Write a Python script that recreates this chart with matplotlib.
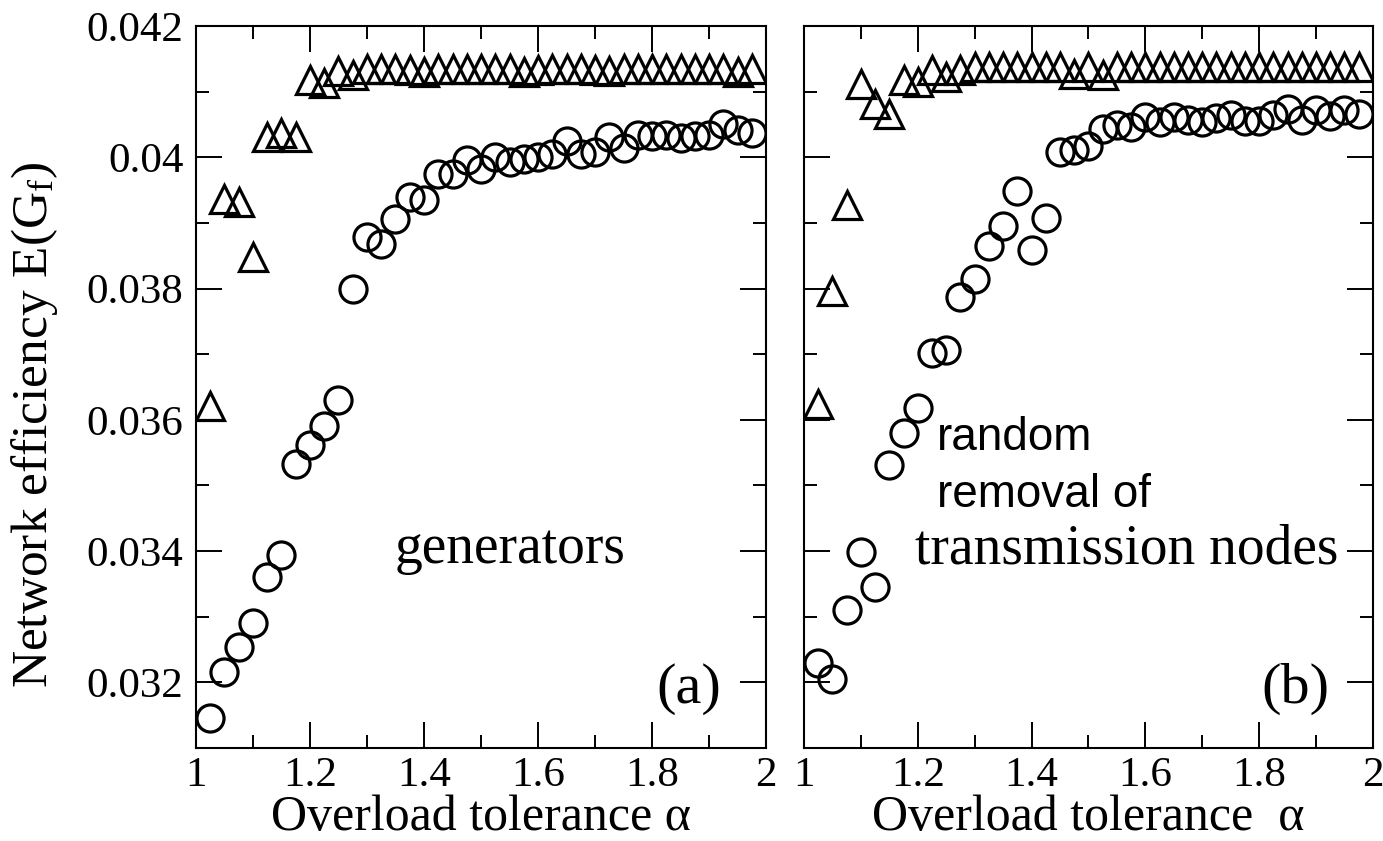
import matplotlib
matplotlib.use("Agg")
import matplotlib.pyplot as plt
from matplotlib.ticker import MultipleLocator

plt.rcParams['font.family'] = ['Liberation Serif', 'DejaVu Serif']
plt.rcParams['mathtext.fontset'] = 'custom'
plt.rcParams['mathtext.rm'] = 'Liberation Serif'
plt.rcParams['mathtext.it'] = 'Liberation Serif:italic'

# overload tolerance values (same grid in both panels)
alpha = [1.025, 1.05, 1.075, 1.1, 1.125, 1.15, 1.175, 1.2, 1.225, 1.25,
         1.275, 1.3, 1.325, 1.35, 1.375, 1.4, 1.425, 1.45, 1.475, 1.5,
         1.525, 1.55, 1.575, 1.6, 1.625, 1.65, 1.675, 1.7, 1.725, 1.75,
         1.775, 1.8, 1.825, 1.85, 1.875, 1.9, 1.925, 1.95, 1.975]

# (a) generators
gen_circles = [0.03146, 0.03216, 0.03254, 0.03290, 0.03361, 0.03394, 0.03533, 0.03562, 0.03591, 0.03630,
               0.03799, 0.03879, 0.03868, 0.03906, 0.03940, 0.03935, 0.03975, 0.03975, 0.03996, 0.03982,
               0.04000, 0.03993, 0.03997, 0.04000, 0.04005, 0.04025, 0.04005, 0.04008, 0.04031, 0.04014,
               0.04034, 0.04032, 0.04034, 0.04029, 0.04032, 0.04034, 0.04051, 0.04042, 0.04037]
gen_triangles = [0.03621, 0.03936, 0.03932, 0.03848, 0.04031, 0.04037, 0.04031, 0.04118, 0.04113, 0.04131,
                 0.04125, 0.04134, 0.04135, 0.04134, 0.04133, 0.04130, 0.04134, 0.04135, 0.04135, 0.04134,
                 0.04135, 0.04134, 0.04130, 0.04133, 0.04134, 0.04134, 0.04134, 0.04133, 0.04131, 0.04134,
                 0.04135, 0.04135, 0.04134, 0.04135, 0.04134, 0.04134, 0.04134, 0.04130, 0.04134]

# (b) random removal of transmission nodes
trans_circles = [0.03230, 0.03205, 0.03310, 0.03399, 0.03345, 0.03531, 0.03580, 0.03618, 0.03702, 0.03706,
                 0.03787, 0.03815, 0.03865, 0.03895, 0.03949, 0.03859, 0.03908, 0.04008, 0.04011, 0.04017,
                 0.04043, 0.04049, 0.04046, 0.04061, 0.04054, 0.04061, 0.04057, 0.04054, 0.04060, 0.04064,
                 0.04055, 0.04055, 0.04064, 0.04073, 0.04057, 0.04072, 0.04063, 0.04072, 0.04066]
trans_triangles = [0.03624, 0.03796, 0.03927, 0.04112, 0.04081, 0.04066, 0.04118, 0.04115, 0.04133, 0.04122,
                   0.04133, 0.04137, 0.04137, 0.04137, 0.04137, 0.04137, 0.04137, 0.04137, 0.04127, 0.04137,
                   0.04126, 0.04137, 0.04137, 0.04137, 0.04137, 0.04137, 0.04137, 0.04137, 0.04137, 0.04137,
                   0.04137, 0.04137, 0.04137, 0.04137, 0.04137, 0.04137, 0.04137, 0.04137, 0.04137]

fig = plt.figure(figsize=(13.83, 8.41), dpi=100)
ax_a = fig.add_axes([0.1417, 0.1106, 0.4122, 0.8585])
ax_b = fig.add_axes([0.5813, 0.1106, 0.4114, 0.8585])

marker_kw = dict(linestyle='none', markerfacecolor='none', markeredgecolor='black',
                 markeredgewidth=2.3)

for ax, circ, tri in [(ax_a, gen_circles, gen_triangles), (ax_b, trans_circles, trans_triangles)]:
    ax.plot(alpha, tri, marker='^', markersize=19.5, **marker_kw)
    ax.plot(alpha, circ, marker='o', markersize=19.5, **marker_kw)
    ax.set_xlim(1, 2)
    ax.set_ylim(0.031, 0.042)
    ax.xaxis.set_major_locator(MultipleLocator(0.2))
    ax.xaxis.set_minor_locator(MultipleLocator(0.1))
    ax.yaxis.set_major_locator(MultipleLocator(0.002))
    ax.yaxis.set_minor_locator(MultipleLocator(0.001))
    ax.tick_params(which='both', direction='in', top=True, right=True, width=1.4)
    ax.tick_params(which='major', length=18.5, labelsize=31, pad=6)
    ax.tick_params(which='minor', length=9.5)
    for sp in ax.spines.values():
        sp.set_linewidth(1.5)
    ax.xaxis.set_major_formatter(plt.FuncFormatter(lambda v, p: f"{v:g}"))
    ax.set_xlabel('Overload tolerance α' if ax is ax_a else 'Overload tolerance  α',
                  fontsize=36, labelpad=0)

ax_a.yaxis.set_major_formatter(plt.FuncFormatter(lambda v, p: f"{v:g}"))
ax_a.tick_params(axis='y', pad=9)
ax_b.tick_params(axis='y', labelleft=False)

fig.text(0.0253, 0.495, r'Network efficiency E(G$_\mathrm{f}$)', rotation=90,
         ha='center', va='center', fontsize=37)

ax_a.text(0.551, 0.256, 'generators', transform=ax_a.transAxes, ha='center',
          va='baseline', fontsize=40)
ax_a.text(0.921, 0.062, '(a)', transform=ax_a.transAxes, ha='right',
          va='baseline', fontsize=42)
ax_b.text(0.923, 0.062, '(b)', transform=ax_b.transAxes, ha='right',
          va='baseline', fontsize=42)
ax_b.text(0.234, 0.4127, 'random', transform=ax_b.transAxes, ha='left',
          va='baseline', fontsize=33, family='Liberation Sans')
ax_b.text(0.234, 0.3338, 'removal of', transform=ax_b.transAxes, ha='left',
          va='baseline', fontsize=33, family='Liberation Sans')
ax_b.text(0.195, 0.256, 'transmission nodes', transform=ax_b.transAxes, ha='left',
          va='baseline', fontsize=40)

fig.savefig('out.png', dpi=100)
